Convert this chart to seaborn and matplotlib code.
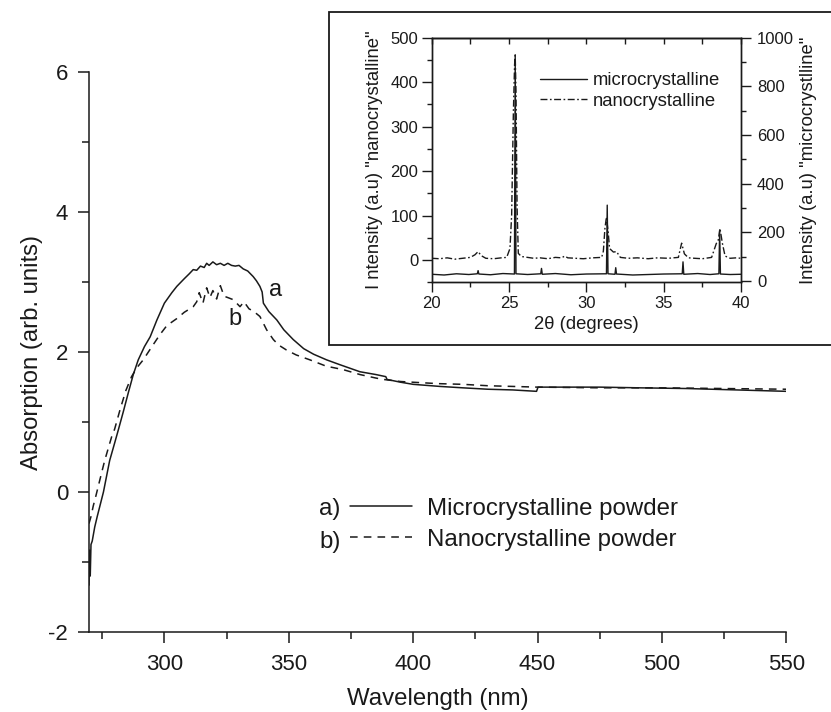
import matplotlib
matplotlib.use("Agg")
import matplotlib.pyplot as plt
from matplotlib.ticker import MultipleLocator
from matplotlib.patches import Rectangle
from matplotlib.lines import Line2D
import seaborn as sns
import pandas as pd

# ---------------- data: UV-vis absorption ----------------
wl_micro = [269.7, 269.9, 270.2, 270.5, 271.0, 272.0, 273.0, 275.5, 278.0, 280.0,
            281.5, 283.5, 285.5, 287.5, 289.5, 292.0, 294.3, 297.0, 300.0, 303.0,
            305.0, 308.0, 310.0, 311.6, 313.0, 314.5, 316.0, 317.0, 318.0, 319.5,
            321.0, 322.5, 324.0, 325.5, 327.0, 328.5, 330.0, 331.7, 333.5, 335.7,
            337.0, 338.4, 339.3, 339.8, 342.0, 345.2, 348.0, 351.8, 356.0, 360.0,
            365.2, 370.6, 378.6, 385.0, 389.0, 389.5, 395.0, 400.0, 410.8, 420.0,
            430.0, 440.0, 449.6, 450.2, 460.0, 475.0, 491.0, 510.0, 530.0, 550.0]
abs_micro = [-1.33, -0.83, -1.20, -0.75, -0.70, -0.50, -0.35, 0.00, 0.45, 0.70,
             0.89, 1.15, 1.42, 1.68, 1.89, 2.08, 2.22, 2.46, 2.70, 2.85,
             2.94, 3.05, 3.12, 3.18, 3.17, 3.23, 3.21, 3.27, 3.24, 3.29,
             3.25, 3.27, 3.24, 3.27, 3.24, 3.23, 3.24, 3.19, 3.16, 3.08,
             3.02, 2.94, 2.86, 2.70, 2.58, 2.46, 2.32, 2.18, 2.05, 1.97,
             1.89, 1.82, 1.72, 1.68, 1.65, 1.61, 1.57, 1.54, 1.51, 1.49,
             1.47, 1.46, 1.44, 1.50, 1.50, 1.50, 1.49, 1.48, 1.46, 1.44]

wl_nano = [269.7, 270.5, 271.4, 272.5, 274.1, 276.0, 278.8, 280.0, 282.2, 284.5,
           286.8, 289.0, 291.5, 295.0, 298.2, 301.0, 305.0, 308.0, 311.6, 313.0,
           314.0, 315.5, 317.0, 318.3, 319.5, 321.0, 322.5, 324.0, 325.5, 327.7,
           330.4, 332.0, 334.0, 336.0, 338.4, 341.1, 343.8, 346.0, 349.1, 353.0,
           358.5, 365.0, 371.9, 378.6, 385.0, 388.0, 395.0, 400.0, 410.0, 420.0,
           430.0, 440.0, 450.0, 475.0, 500.0, 525.0, 550.0]
abs_nano = [-0.45, -0.35, -0.20, -0.05, 0.18, 0.45, 0.79, 0.90, 1.18, 1.45,
            1.65, 1.78, 1.89, 2.08, 2.25, 2.38, 2.48, 2.57, 2.65, 2.72,
            2.85, 2.70, 2.92, 2.78, 2.88, 2.76, 2.95, 2.80, 2.78, 2.75,
            2.65, 2.72, 2.62, 2.58, 2.51, 2.32, 2.18, 2.10, 2.03, 1.96,
            1.89, 1.80, 1.75, 1.68, 1.63, 1.61, 1.58, 1.57, 1.55, 1.54,
            1.52, 1.51, 1.50, 1.49, 1.49, 1.48, 1.47]

# ---------------- data: XRD inset ----------------
tt_nano = [20.0, 20.5, 21.0, 21.5, 22.0, 22.5, 22.8, 23.0, 23.2, 23.5,
           24.0, 24.5, 24.85, 25.06, 25.17, 25.28, 25.36, 25.40, 25.45, 25.52,
           25.6, 25.8, 26.2, 26.6, 27.0, 27.5, 28.0, 28.4, 28.6, 28.8,
           29.3, 29.8, 30.4, 30.99, 31.1, 31.2, 31.3, 31.42, 31.5, 31.75,
           31.95, 32.2, 32.7, 33.3, 34.0, 34.6, 35.3, 35.95, 36.16, 36.34,
           36.6, 37.0, 37.5, 38.1, 38.4, 38.53, 38.64, 38.8, 38.97, 39.3,
           39.7, 40.0]
int_nano = [4, 3, 5, 2, 4, 6, 12, 19, 10, 4,
            3, 5, 6, 26, 101, 330, 440, 460, 380, 120,
            15, 8, 6, 4, 5, 3, 6, 5, 9, 5,
            4, 3, 5, 6, 20, 71, 97, 60, 26, 18,
            19, 6, 4, 5, 3, 5, 4, 6, 38, 14,
            5, 4, 3, 6, 37, 45, 71, 37, 9, 4,
            5, 4]

tt_micro = [20.0, 20.8, 21.6, 22.4, 22.95, 23.0, 23.05, 23.8, 24.6, 25.35,
            25.40, 25.45, 26.2, 27.05, 27.1, 27.15, 28.0, 29.0, 30.0, 31.30,
            31.35, 31.40, 31.85, 31.9, 31.95, 33.0, 34.0, 35.0, 36.2, 36.25,
            36.3, 37.2, 38.0, 38.57, 38.62, 38.67, 39.3, 40.0]
int_micro = [28, 25, 30, 27, 30, 43, 29, 26, 31, 29,
             930, 30, 27, 30, 52, 28, 31, 26, 29, 30,
             312, 30, 28, 55, 29, 25, 27, 29, 30, 79,
             28, 31, 27, 30, 210, 29, 27, 28]

# ---------------- figure ----------------
sns.set_style("ticks")
plt.rcParams["font.family"] = ["Liberation Sans", "DejaVu Sans"]
plt.rcParams["axes.unicode_minus"] = False
W, H = 831, 712
fig = plt.figure(figsize=(W / 100, H / 100), dpi=100)
fig.patch.set_facecolor("white")

ink = "#1a1a1a"
dashdot = (0, (5, 1.8, 1.2, 1.8))


def fx(px):
    return px / W


def fy(py):
    return 1 - py / H


# main axes
ax = fig.add_axes([fx(89), fy(632), fx(786.3) - fx(89), fy(72.3) - fy(632)])
ax.set_facecolor("white")
df_m = pd.DataFrame({"wl": wl_micro, "a": abs_micro})
df_n = pd.DataFrame({"wl": wl_nano, "a": abs_nano})
sns.lineplot(data=df_m, x="wl", y="a", ax=ax, color=ink, lw=1.1,
             estimator=None, sort=False, label="Microcrystalline powder")
sns.lineplot(data=df_n, x="wl", y="a", ax=ax, color=ink, lw=1.1,
             linestyle=(0, (5, 4)), estimator=None, sort=False,
             label="Nanocrystalline powder")
ax.set_xlim(269.7, 550)
ax.set_ylim(-2, 6)
ax.xaxis.set_major_locator(MultipleLocator(50))
ax.xaxis.set_minor_locator(MultipleLocator(25))
ax.yaxis.set_major_locator(MultipleLocator(2))
ax.yaxis.set_minor_locator(MultipleLocator(1))
for s in ["top", "right"]:
    ax.spines[s].set_visible(False)
for s in ["left", "bottom"]:
    ax.spines[s].set_linewidth(1.1)
    ax.spines[s].set_color(ink)
ax.tick_params(which="major", direction="out", length=8, width=1.1,
               labelsize=16, colors=ink)
ax.tick_params(axis="x", which="major", pad=7.5)
ax.tick_params(axis="y", which="major", pad=7)
ax.tick_params(which="minor", direction="out", length=4.7, width=1.1, colors=ink)
ax.set_xlabel("Wavelength (nm)", fontsize=17.3, labelpad=10, color=ink)
ax.set_ylabel("Absorption (arb. units)", fontsize=17.2, labelpad=4, color=ink)

ax.text(344.6, 2.89, "a", fontsize=17, ha="center", va="center", color=ink)
ax.text(328.4, 2.48, "b", fontsize=17, ha="center", va="center", color=ink)

leg = ax.legend(loc="upper left", bbox_to_anchor=(fx(350), fy(497.5)),
                bbox_transform=fig.transFigure, frameon=False, fontsize=17.3,
                handlelength=2.6, handletextpad=0.62, labelspacing=0.375,
                borderpad=0, borderaxespad=0)
for t in leg.get_texts():
    t.set_color(ink)
fig.text(fx(330), fy(509), "a)", fontsize=17.3, ha="center", va="center", color=ink)
fig.text(fx(330), fy(542), "b)", fontsize=17.3, ha="center", va="center", color=ink)

# inset frame
fig.patches.append(Rectangle((fx(329), fy(345)), 1.0, fy(12) - fy(345),
                             transform=fig.transFigure, fill=True,
                             facecolor="white", edgecolor=ink, lw=1.3,
                             zorder=5))

# inset axes
ins = fig.add_axes([fx(431.7), fy(282.3), fx(741) - fx(431.7), fy(37.7) - fy(282.3)],
                   zorder=6)
ins.set_facecolor("white")
df_xn = pd.DataFrame({"tt": tt_nano, "i": int_nano})
sns.lineplot(data=df_xn, x="tt", y="i", ax=ins, color=ink, lw=1.0,
             linestyle=dashdot, estimator=None, sort=False, legend=False)
ins.set_xlim(20, 40)
ins.set_ylim(-50, 500)
ins.xaxis.set_major_locator(MultipleLocator(5))
ins.xaxis.set_minor_locator(MultipleLocator(2.5))
ins.yaxis.set_major_locator(MultipleLocator(100))
ins.yaxis.set_minor_locator(MultipleLocator(50))
ins.set_xlabel("2θ (degrees)", fontsize=13.3, labelpad=3.5, color=ink)
ins.set_ylabel('I ntensity (a.u) "nanocrystalline"', fontsize=13.3,
               labelpad=5, color=ink)
for s in ins.spines.values():
    s.set_linewidth(1.0)
    s.set_color(ink)
ins.tick_params(which="major", direction="out", length=7, width=1.0,
                labelsize=12, pad=2.7, colors=ink)
ins.tick_params(which="minor", direction="out", length=3.5, width=1.0, colors=ink)

top = ins.secondary_xaxis("top")
top.xaxis.set_major_locator(MultipleLocator(2.5))
top.tick_params(which="major", direction="in", length=4, width=1.0,
                labeltop=False, colors=ink)
top.spines["top"].set_linewidth(1.0)
top.spines["top"].set_color(ink)

sec = ins.twinx()
df_xm = pd.DataFrame({"tt": tt_micro, "i": int_micro})
sns.lineplot(data=df_xm, x="tt", y="i", ax=sec, color=ink, lw=1.0,
             estimator=None, sort=False, legend=False)
sec.set_ylim(-5, 1000)
sec.set_xlim(20, 40)
sec.yaxis.set_major_locator(MultipleLocator(200))
sec.yaxis.set_minor_locator(MultipleLocator(100))
sec.set_ylabel('Intensity (a.u) "microcrystlline"', fontsize=13.3,
               labelpad=4, color=ink)
for s in sec.spines.values():
    s.set_linewidth(1.0)
    s.set_color(ink)
sec.tick_params(which="major", direction="out", length=7, width=1.0,
                labelsize=12, pad=4.5, colors=ink)
sec.tick_params(which="minor", direction="out", length=3.5, width=1.0, colors=ink)

handles = [Line2D([], [], color=ink, lw=1.0),
           Line2D([], [], color=ink, lw=1.0, linestyle=dashdot)]
ileg = sec.legend(handles, ["microcrystalline", "nanocrystalline"],
                  loc="upper left", bbox_to_anchor=(fx(540), fy(72.4)),
                  bbox_transform=fig.transFigure, frameon=False, fontsize=13.3,
                  handlelength=2.55, handletextpad=0.33, labelspacing=0.17,
                  borderpad=0, borderaxespad=0)
for t in ileg.get_texts():
    t.set_color(ink)

fig.savefig("out.png", dpi=100, facecolor="white")
